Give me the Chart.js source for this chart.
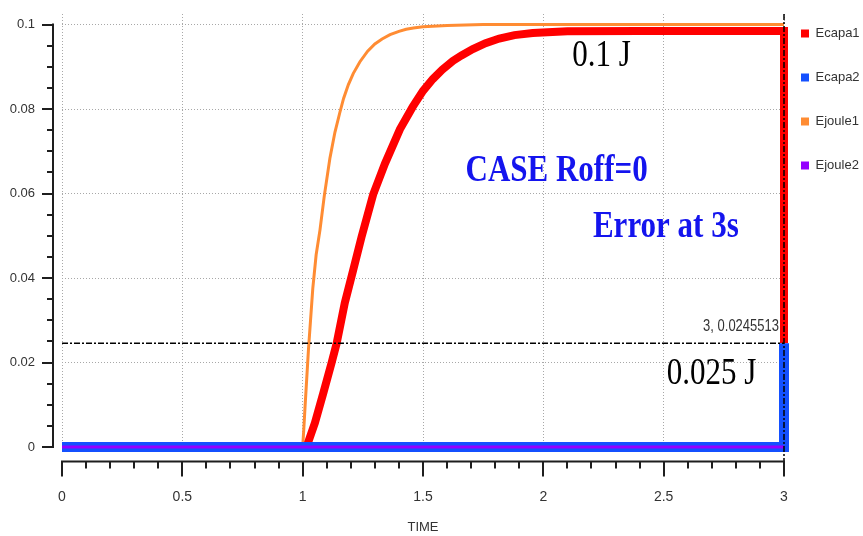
<!DOCTYPE html>
<html lang="en">
<head>
<meta charset="UTF-8" />
<title>Ecapa / Ejoule - CASE Roff=0</title>
<script src="https://cdn.jsdelivr.net/npm/chart.js"></script>
<style>
  * { margin: 0; padding: 0; box-sizing: border-box; }
  body { background: #fff; }
  #wrap { width: 863px; height: 536px; position: relative; }
</style>
</head>
<body>
<div id="wrap"><canvas id="chart"></canvas></div>
<script>
// --- data ---
const timeTicks = ['0', '0.5', '1', '1.5', '2', '2.5', '3'];
const energyTicks = ['0', '0.02', '0.04', '0.06', '0.08', '0.1'];

const ecapa1Time   = [0, 1.016, 1.051, 1.086, 1.12, 1.141, 1.175, 1.21, 1.245, 1.293, 1.342, 1.404, 1.457, 1.5, 1.541, 1.58, 1.624, 1.66, 1.707, 1.76, 1.817, 1.88, 1.956, 2.1, 2.4, 3.0, 3.0];
const ecapa1Energy = [0, 0, 0.0057, 0.0128, 0.0199, 0.0245, 0.0341, 0.0419, 0.0498, 0.0598, 0.0671, 0.0752, 0.0805, 0.0843, 0.0871, 0.0893, 0.0914, 0.0927, 0.0942, 0.0956, 0.0967, 0.0975, 0.0980, 0.0984, 0.0985, 0.0985, 0.0245513];

const ecapa2Time   = [0, 3, 3];
const ecapa2Energy = [0, 0, 0.0245513];

const ejoule1Time   = [0, 1.0, 1.005, 1.01, 1.024, 1.042, 1.056, 1.072, 1.09, 1.113, 1.134, 1.155, 1.17, 1.19, 1.21, 1.238, 1.27, 1.30, 1.33, 1.363, 1.40, 1.43, 1.46, 1.5, 1.6, 1.75, 3.0];
const ejoule1Energy = [0, 0, 0.0045, 0.0096, 0.023, 0.0375, 0.0455, 0.0514, 0.0595, 0.0683, 0.0745, 0.0793, 0.0825, 0.0858, 0.0884, 0.0912, 0.0937, 0.0954, 0.0966, 0.0976, 0.0984, 0.0989, 0.0992, 0.0995, 0.0998, 0.1, 0.1];

const ejoule2Time   = [0, 3];
const ejoule2Energy = [0, 0];

// cursor readout
const cursorTime = 3;
const cursorEnergy = 0.0245513;

const noteTexts  = ['0.1 J', 'CASE Roff=0', 'Error at 3s', '0.025 J'];
const noteTime   = [2.242, 2.055, 2.509, 2.699];
const noteEnergy = [0.0925, 0.0653, 0.052, 0.0173];

const SANS = "'Liberation Sans', Arial, sans-serif";
const SERIF = "'Liberation Serif', 'Times New Roman', serif";
const LEGEND_PAD = 31;

const pts = (t, e) => t.map((v, i) => ({ x: v, y: e[i] }));

// major ticks carry the labels, minor ticks are blank
function buildTicks(labels, subdiv) {
  const out = [];
  const vals = labels.map(Number);
  vals.forEach((v, i) => {
    out.push({ value: v, major: true, text: labels[i] });
    if (i < vals.length - 1) {
      const step = (vals[i + 1] - v) / subdiv;
      for (let k = 1; k < subdiv; k++) out.push({ value: +(v + k * step).toFixed(6), major: false, text: '' });
    }
  });
  return out;
}

const scopeAxes = {
  id: 'scopeAxes',
  afterLayout(chart) {
    // scope legend starts a bit left of the plot edge
    chart.legend.left = chart.chartArea.right + 17 - LEGEND_PAD;
  },
  afterDatasetsDraw(chart) {
    const { ctx, chartArea: a, scales: { x, y } } = chart;
    const axX = a.left - 9;
    const axY = a.bottom + 14.5;
    ctx.save();

    // dash-dot cursor
    const cx = x.getPixelForValue(cursorTime);
    const cy = y.getPixelForValue(cursorEnergy);
    ctx.strokeStyle = '#000';
    ctx.lineWidth = 1.5;
    ctx.setLineDash([6, 2, 2, 2]);
    ctx.beginPath();
    ctx.moveTo(x.getPixelForValue(0), cy);
    ctx.lineTo(cx, cy);
    ctx.moveTo(cx, a.top);
    ctx.lineTo(cx, axY);
    ctx.stroke();
    ctx.setLineDash([]);

    // detached axes with ticks
    ctx.strokeStyle = '#1e1e1e';
    ctx.lineWidth = 2;
    ctx.beginPath();
    ctx.moveTo(axX, y.getPixelForValue(y.ticks[y.ticks.length - 1].value) - 1);
    ctx.lineTo(axX, y.getPixelForValue(0) + 1);
    ctx.moveTo(x.getPixelForValue(0) - 1, axY);
    ctx.lineTo(x.getPixelForValue(x.ticks[x.ticks.length - 1].value) + 1, axY);
    y.ticks.forEach(t => {
      const p = Math.round(y.getPixelForValue(t.value));
      ctx.moveTo(axX, p);
      ctx.lineTo(axX - (t.major ? 11 : 6), p);
    });
    x.ticks.forEach(t => {
      const p = Math.round(x.getPixelForValue(t.value));
      ctx.moveTo(p, axY);
      ctx.lineTo(p, axY + (t.major ? 15 : 7));
    });
    ctx.stroke();
    ctx.restore();
  },
  afterDraw(chart) {
    const { ctx, scales: { x, y } } = chart;
    ctx.save();
    ctx.textAlign = 'center';
    ctx.textBaseline = 'middle';
    noteTexts.forEach((txt, i) => {
      const bold = i === 1 || i === 2;
      ctx.save();
      ctx.translate(x.getPixelForValue(noteTime[i]), y.getPixelForValue(noteEnergy[i]));
      ctx.scale(1, 1.25);
      ctx.font = (bold ? 'bold ' : '') + '31px ' + SERIF;
      ctx.fillStyle = bold ? '#1414ee' : '#000';
      ctx.fillText(txt, 0, 0);
      ctx.restore();
    });
    // cursor readout
    ctx.translate(x.getPixelForValue(cursorTime) - 5, y.getPixelForValue(cursorEnergy) - 17);
    ctx.scale(1, 1.3);
    ctx.textAlign = 'right';
    ctx.font = '13px ' + SANS;
    ctx.fillStyle = '#333';
    ctx.fillText(cursorTime + ', ' + cursorEnergy, 0, 0);
    ctx.restore();
  }
};

new Chart(document.getElementById('chart'), {
  type: 'line',
  data: {
    datasets: [
      { label: 'Ecapa1', data: pts(ecapa1Time, ecapa1Energy), borderColor: '#ff0000', backgroundColor: '#ff0000', borderWidth: 8, order: 2 },
      { label: 'Ecapa2', data: pts(ecapa2Time, ecapa2Energy), borderColor: '#1450ff', backgroundColor: '#1450ff', borderWidth: 10, order: 1 },
      { label: 'Ejoule1', data: pts(ejoule1Time, ejoule1Energy), borderColor: '#ff8c33', backgroundColor: '#ff8c33', borderWidth: 3, order: 3 },
      { label: 'Ejoule2', data: pts(ejoule2Time, ejoule2Energy), borderColor: '#9400ff', backgroundColor: '#9400ff', borderWidth: 3, order: 0 }
    ]
  },
  options: {
    responsive: true,
    maintainAspectRatio: false,
    animation: false,
    datasets: { line: { clip: 6 } },
    elements: {
      point: { radius: 0 },
      line: { tension: 0, fill: false, borderJoinStyle: 'miter', borderCapStyle: 'butt' }
    },
    layout: { autoPadding: false, padding: { top: -4, left: 0, right: 0, bottom: 0 } },
    plugins: {
      tooltip: { enabled: false },
      legend: {
        position: 'right',
        align: 'start',
        maxWidth: 79,
        labels: {
          boxWidth: 8,
          boxHeight: 8,
          padding: LEGEND_PAD,
          color: '#333',
          font: { family: SANS, size: 13 },
          sort: (a, b) => a.datasetIndex - b.datasetIndex,
          generateLabels: chart => Chart.defaults.plugins.legend.labels.generateLabels(chart)
            .map(l => Object.assign(l, { lineWidth: 0, fillStyle: l.strokeStyle }))
        }
      }
    },
    scales: {
      x: {
        type: 'linear',
        min: 0,
        max: 3,
        afterBuildTicks: s => { s.ticks = buildTicks(timeTicks, 5); },
        afterFit: s => { s.height = 89; s.paddingLeft = 0; s.paddingRight = 0; },
        grid: { drawTicks: false, color: c => (c.tick && c.tick.major ? '#a8a8a8' : 'transparent'), lineWidth: 1 },
        border: { display: false, dash: [1, 2] },
        ticks: {
          autoSkip: false, maxRotation: 0, padding: 42,
          color: '#333', font: { family: SANS, size: 14 },
          callback: (v, i, t) => t[i].text || ''
        },
        title: { display: true, text: 'TIME', color: '#333', font: { family: SANS, size: 13 }, padding: { top: 0, bottom: 1 } }
      },
      y: {
        min: 0,
        max: 0.1025,
        afterBuildTicks: s => { s.ticks = buildTicks(energyTicks, 4); },
        afterFit: s => { s.width = 62; s.paddingTop = 14; s.paddingBottom = 0; },
        grid: { drawTicks: false, color: c => (c.tick && c.tick.major ? '#a8a8a8' : 'transparent'), lineWidth: 1 },
        border: { display: false, dash: [1, 2] },
        ticks: {
          autoSkip: false, padding: 27,
          color: '#333', font: { family: SANS, size: 13 },
          callback: (v, i, t) => t[i].text || ''
        }
      }
    }
  },
  plugins: [scopeAxes]
});
</script>
</body>
</html>
